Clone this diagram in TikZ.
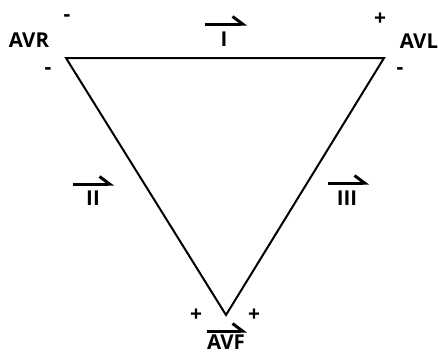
\documentclass[tikz,border=0pt]{standalone}
\usepackage{fontspec}
\setmainfont{Open Sans}
\usetikzlibrary{arrows.meta,positioning,calc}

\begin{document}
\begin{tikzpicture}[
    x=1pt, y=-1pt,
    lead/.style={font=\bfseries\fontsize{20.5}{20.5}\selectfont, inner sep=0pt},
    pol/.style={font=\bfseries\fontsize{21}{21}\selectfont, inner sep=0pt},
    side/.style={line width=2pt, line join=miter},
    vec/.style={line width=3pt, -{Straight Barb[harpoon, length=10pt, width=15pt]}}
]
\useasboundingbox (0,0) rectangle (438,354);

% triangle corners
\coordinate (vr) at (66,58);
\coordinate (vl) at (384,58);
\coordinate (vf) at (226,315);
\draw[side] (vr) -- (vl) -- (vf) -- cycle;

% lead names
\node[lead] (avr) at (29,40) {AVR};
\node[lead] (avl) at (419,41) {AVL};
\node[lead] (avf) at (226,342) {AVF};

% polarities
\node[pol] (vrtop) at (67,18) {-};
\node[pol] (vrlow) at (48,71) {-};
\node[pol] (vltop) at (380,19) {+};
\node[pol] (vllow) at (400,71) {-};
\node[pol] (vfl) at (196,315) {+};
\node[pol] (vfr) at (254,315) {+};

% lead vectors
\node[lead] (one) at (224,39) {I};
\node[lead] (two) at (93,198) {II};
\node[lead] (three) at (347,198) {III};
\coordinate (onea) at (205,24);   \coordinate (oneb) at (247,24);
\coordinate (twoa) at (73,184);   \coordinate (twob) at (114,184);
\coordinate (threea) at (328,183);\coordinate (threeb) at (369,183);
\coordinate (fa) at (207,331);    \coordinate (fb) at (247,331);
\draw[vec] (onea) -- (oneb);
\draw[vec] (twoa) -- (twob);
\draw[vec] (threea) -- (threeb);
\draw[vec] (fa) -- (fb);
\end{tikzpicture}
\end{document}
